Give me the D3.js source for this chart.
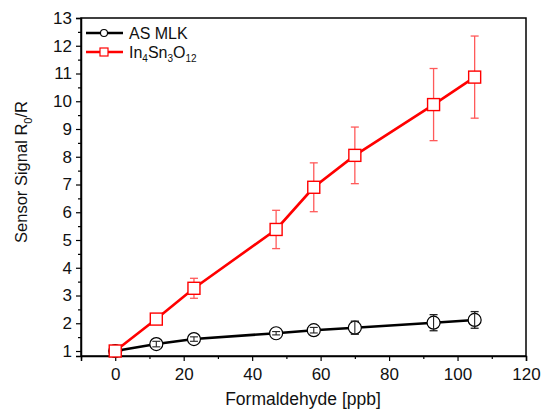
<!DOCTYPE html>
<html lang="en">
<head>
<meta charset="UTF-8">
<title>Sensor Signal</title>
<style>
  body { margin: 0; background: #fff; }
  svg text { font-family: "Liberation Sans", Arial, sans-serif; fill: #111; }
</style>
<script src="https://d3js.org/d3.v7.min.js"></script>
</head>
<body>
<div id="chart"></div>
<script>
  // 数据
  const conc = [0, 12, 23, 47, 58, 70, 93, 105];
  const mlk = [1.0, 1.25, 1.43, 1.64, 1.75, 1.84, 2.02, 2.12];
  const mlkErr = [0.03, 0.1, 0.08, 0.06, 0.1, 0.23, 0.29, 0.3];
  const ito = [1.0, 2.15, 3.26, 5.38, 6.9, 8.05, 9.88, 10.87];
  const itoErr = [0.03, 0.1, 0.36, 0.69, 0.88, 1.02, 1.3, 1.48];
  const xTicks = [0, 20, 40, 60, 80, 100, 120];
  const yTicks = [1, 2, 3, 4, 5, 6, 7, 8, 9, 10, 11, 12, 13];

  const W = 542, H = 410;
  const m = { left: 81, top: 18, right: 16, bottom: 54 };

  const svg = d3.select("#chart").append("svg")
    .attr("width", W).attr("height", H);

  const x = d3.scaleLinear().domain([-10, 120]).range([m.left, W - m.right]);
  const y = d3.scaleLinear().domain([0.82, 13]).range([H - m.bottom, m.top]);

  // 边框
  svg.append("rect")
    .attr("x", m.left).attr("y", m.top)
    .attr("width", x.range()[1] - m.left).attr("height", y.range()[0] - m.top)
    .attr("fill", "none").attr("stroke", "#000").attr("stroke-width", 1.5);

  // 坐标轴
  svg.append("g")
    .attr("transform", `translate(0,${y.range()[0]})`)
    .call(d3.axisBottom(x).tickValues(xTicks).tickSize(5).tickPadding(7));
  svg.append("g")
    .attr("transform", `translate(0,${y.range()[0]})`)
    .call(d3.axisBottom(x).tickValues(d3.range(-10, 121, 10).filter(v => v % 20 !== 0)).tickSize(3).tickFormat(""))
    .call(g => g.select(".domain").remove());
  svg.append("g")
    .attr("transform", `translate(${m.left},0)`)
    .call(d3.axisLeft(y).tickValues(yTicks).tickSize(5).tickPadding(4));
  svg.append("g")
    .attr("transform", `translate(${m.left},0)`)
    .call(d3.axisLeft(y).tickValues(d3.range(1.5, 13, 1)).tickSize(3).tickFormat(""))
    .call(g => g.select(".domain").remove());

  svg.selectAll(".domain").attr("stroke-width", 1.5);
  svg.selectAll(".tick line").attr("stroke-width", 1.2);
  svg.selectAll(".tick text").style("font-size", "17px").attr("fill", "#111");

  // 轴标题
  svg.append("text")
    .attr("x", 303).attr("y", 405)
    .attr("text-anchor", "middle").style("font-size", "17.5px")
    .text("Formaldehyde [ppb]");

  const yl = svg.append("text")
    .attr("transform", "translate(27,172) rotate(-90)")
    .attr("text-anchor", "middle").style("font-size", "16.5px");
  yl.append("tspan").text("Sensor Signal R");
  yl.append("tspan").attr("dy", 5).style("font-size", "11px").text("0");
  yl.append("tspan").attr("dy", -5).text("/R");

  // 数据系列
  function series(vals, errs, color, errColor, shape) {
    const g = svg.append("g");
    const pts = conc.map((c, i) => ({ c, v: vals[i], e: errs[i] }));
    // 误差棒
    pts.forEach(p => {
      g.append("line")
        .attr("x1", x(p.c)).attr("x2", x(p.c))
        .attr("y1", y(p.v - p.e)).attr("y2", y(p.v + p.e))
        .attr("stroke", errColor).attr("stroke-width", 1.3);
      [p.v - p.e, p.v + p.e].forEach(v => {
        g.append("line")
          .attr("x1", x(p.c) - 4).attr("x2", x(p.c) + 4)
          .attr("y1", y(v)).attr("y2", y(v))
          .attr("stroke", errColor).attr("stroke-width", 1.3);
      });
    });
    g.append("path")
      .datum(pts)
      .attr("d", d3.line().x(p => x(p.c)).y(p => y(p.v)))
      .attr("fill", "none").attr("stroke", color).attr("stroke-width", 2.6);
    pts.forEach(p => {
      if (shape === "circle") {
        g.append("circle")
          .attr("cx", x(p.c)).attr("cy", y(p.v)).attr("r", 6.5)
          .attr("fill", "#fff").attr("stroke", color).attr("stroke-width", 1.2);
        // 圆内可见的误差棒
        g.append("line")
          .attr("x1", x(p.c)).attr("x2", x(p.c))
          .attr("y1", y(p.v - p.e)).attr("y2", y(p.v + p.e))
          .attr("stroke", errColor).attr("stroke-width", 1.1);
        [p.v - p.e, p.v + p.e].forEach(v => {
          if (Math.abs(y(v) - y(p.v)) < 6.5) {
            g.append("line")
              .attr("x1", x(p.c) - 4).attr("x2", x(p.c) + 4)
              .attr("y1", y(v)).attr("y2", y(v))
              .attr("stroke", errColor).attr("stroke-width", 1.1);
          }
        });
      } else {
        g.append("rect")
          .attr("x", x(p.c) - 6).attr("y", y(p.v) - 6)
          .attr("width", 12).attr("height", 12)
          .attr("fill", "#fff").attr("stroke", color).attr("stroke-width", 1.4);
      }
    });
  }

  series(mlk, mlkErr, "#000", "#222", "circle");
  series(ito, itoErr, "#ff0000", "#ff5a5a", "square");

  // 图例
  const leg = svg.append("g");
  leg.append("line").attr("x1", 86).attr("x2", 123).attr("y1", 33).attr("y2", 33)
    .attr("stroke", "#000").attr("stroke-width", 2.4);
  leg.append("circle").attr("cx", 104).attr("cy", 33).attr("r", 3.5)
    .attr("fill", "#fff").attr("stroke", "#000").attr("stroke-width", 1.1);
  leg.append("text").attr("x", 129).attr("y", 39).style("font-size", "16px").text("AS MLK");

  leg.append("line").attr("x1", 86).attr("x2", 123).attr("y1", 52).attr("y2", 52)
    .attr("stroke", "#ff0000").attr("stroke-width", 2.4);
  leg.append("rect").attr("x", 100).attr("y", 48).attr("width", 8).attr("height", 8)
    .attr("fill", "#fff").attr("stroke", "#ff0000").attr("stroke-width", 1.2);
  const lt = leg.append("text").attr("x", 129).attr("y", 58).style("font-size", "16px");
  lt.append("tspan").text("In");
  lt.append("tspan").attr("dy", 4).style("font-size", "10px").text("4");
  lt.append("tspan").attr("dy", -4).text("Sn");
  lt.append("tspan").attr("dy", 4).style("font-size", "10px").text("3");
  lt.append("tspan").attr("dy", -4).text("O");
  lt.append("tspan").attr("dy", 4).style("font-size", "10px").text("12");
</script>
</body>
</html>
